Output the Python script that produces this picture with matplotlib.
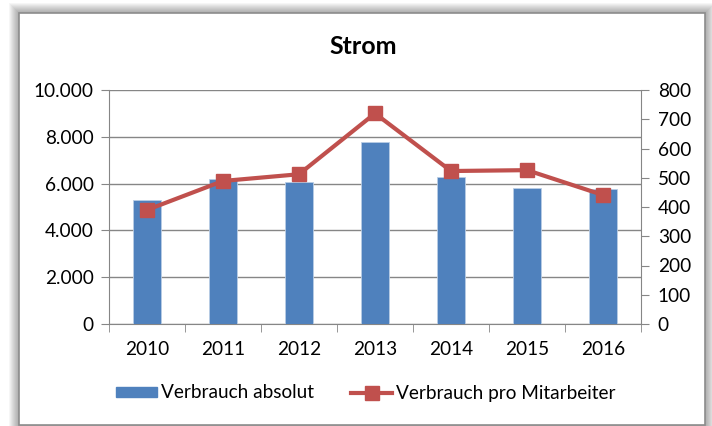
import matplotlib.pyplot as plt
from matplotlib.patches import Rectangle
from matplotlib.lines import Line2D
from matplotlib.ticker import FuncFormatter, FixedLocator

plt.rcParams['font.family'] = ['Lato', 'DejaVu Sans']

years = ['2010', '2011', '2012', '2013', '2014', '2015', '2016']
absolut = [5290, 6200, 6070, 7760, 6270, 5810, 5770]
pro_mitarbeiter = [390, 489, 512, 720, 523, 526, 441]

W, H = 712, 426
fig = plt.figure(figsize=(W / 100, H / 100), dpi=100)

# chart frame with soft shadow (left, top, right)
x0, y0, x1, y1 = 18.5, 13, 704.5, 424.5
for i in range(10, 0, -1):
    fig.patches.append(Rectangle((x0 - i, 0), (x1 - x0) + 2 * i, H - y0 + i,
                                 transform=None, facecolor='#000000',
                                 alpha=0.035, edgecolor='none', zorder=0))
fig.patches.append(Rectangle((x0, H - y1), x1 - x0, y1 - y0, transform=None,
                             facecolor='white', edgecolor='#8c8c8c', lw=1.2, zorder=1))

ax = fig.add_axes([109 / W, 1 - 324 / H, (641 - 109) / W, (324 - 90) / H])
ax.set_zorder(2)
ax.patch.set_visible(False)
xs = range(len(years))
ax.bar(xs, absolut, width=0.38, color='#4F81BD', edgecolor='#b9cde5', lw=0.6,
       zorder=3, label='Verbrauch absolut')
ax.set_xlim(-0.5, len(years) - 0.5)
ax.set_ylim(0, 10000)
ax.set_yticks(range(0, 10001, 2000))
ax.yaxis.set_major_formatter(FuncFormatter(lambda v, p: f'{int(v):,}'.replace(',', '.')))
ax.grid(axis='y', color='#868686', lw=1, zorder=0)
ax.set_xticks(list(xs))
ax.set_xticklabels(years)
ax.xaxis.set_minor_locator(FixedLocator([i - 0.5 for i in range(len(years) + 1)]))
ax.tick_params(axis='x', which='major', length=0, pad=12, labelsize=13.7)
ax.tick_params(axis='x', which='minor', length=6, color='#868686')
ax.tick_params(axis='y', length=6, color='#868686', labelsize=13.7, pad=5)
for s in ['top', 'right']:
    ax.spines[s].set_visible(False)
for s in ['left', 'bottom']:
    ax.spines[s].set_color('#868686')

ax2 = ax.twinx()
ax2.plot(xs, pro_mitarbeiter, color='#C0504D', lw=3, marker='s', ms=10,
         zorder=4, label='Verbrauch pro Mitarbeiter')
ax2.set_ylim(0, 800)
ax2.set_yticks(range(0, 801, 100))
ax2.tick_params(axis='y', length=6, color='#868686', labelsize=13.7, pad=6)
for s in ['top', 'left', 'bottom']:
    ax2.spines[s].set_visible(False)
ax2.spines['right'].set_color('#868686')

fig.text(363 / W, 1 - 47 / H, 'Strom', ha='center', va='center',
         fontsize=18, fontweight='bold')

handles = [Rectangle((0, 0), 1, 1, color='#4F81BD'),
           Line2D([], [], color='#C0504D', lw=3, marker='s', ms=10)]
fig.legend(handles, ['Verbrauch absolut', 'Verbrauch pro Mitarbeiter'],
           loc='center', bbox_to_anchor=(366 / W, 1 - 393 / H), ncol=2,
           frameon=False, fontsize=13.7, handlelength=2.15, handletextpad=0.2,
           handleheight=0.45, columnspacing=1.95)

fig.savefig('out.png', dpi=100)
